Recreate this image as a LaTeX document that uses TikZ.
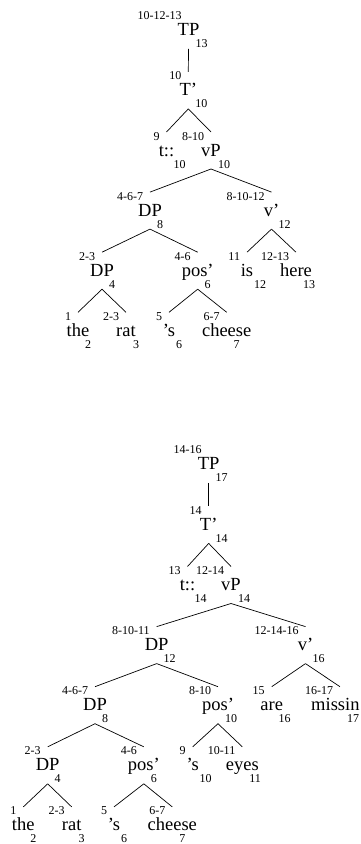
\documentclass[tikz,border=0pt]{standalone}
\usepackage{fontspec}
\setmainfont{Liberation Serif}
\usetikzlibrary{calc}
\tikzset{
  wordst/.style={inner sep=0pt, outer sep=0pt, anchor=base, font=\fontsize{18.5}{20}\selectfont},
  supst/.style={inner sep=0pt, outer sep=0pt, anchor=base east, font=\fontsize{12}{13}\selectfont},
  subst/.style={inner sep=0pt, outer sep=0pt, anchor=base west, font=\fontsize{12}{13}\selectfont},
  branch/.style={line width=0.7pt, black}
}
\newcommand{\lx}[6]{%
  \node[wordst] (#1) at (#2,#3) {#5};
  \node[supst] (#1-sup) at ($(#1.base)+(-7,-16)$) {#4};
  \node[subst] (#1-sub) at ($(#1.base)+(7,12)$) {#6};
}
\newcommand{\br}[2]{\draw[branch] ($(#1.base)+(0,13)$) -- ($(#2.base)+(0,-24)$);}
\begin{document}
\begin{tikzpicture}[x=1pt,y=-1pt]
\useasboundingbox (0,0) rectangle (360,844);
\clip (0,0) rectangle (360,844);
\fill[white] (0,0) rectangle (360,844);
% ---------- tree 1 ----------
\lx{aTP}{188.5}{35.8}{10-12-13}{TP}{13}
\lx{aT}{188.3}{95.9}{10}{T’}{10}
\lx{at}{166.5}{156}{9}{t::}{10}
\lx{avP}{211}{156}{8-10}{vP}{10}
\lx{aDP}{150}{216.1}{4-6-7}{DP}{8}
\lx{av}{271.5}{216.1}{8-10-12}{v’}{12}
\lx{aDPb}{102}{276.2}{2-3}{DP}{4}
\lx{apos}{197.7}{276.2}{4-6}{pos’}{6}
\lx{ais}{247}{276.2}{11}{is}{12}
\lx{ahere}{296}{276.2}{12-13}{here}{13}
\lx{athe}{78}{336.3}{1}{the}{2}
\lx{arat}{126}{336.3}{2-3}{rat}{3}
\lx{as}{169}{336.3}{5}{’s}{6}
\lx{acheese}{226.7}{336.3}{6-7}{cheese}{7}
\br{aTP}{aT}
\br{aT}{at}
\br{aT}{avP}
\br{avP}{aDP}
\br{avP}{av}
\br{aDP}{aDPb}
\br{aDP}{apos}
\br{av}{ais}
\br{av}{ahere}
\br{aDPb}{athe}
\br{aDPb}{arat}
\br{apos}{as}
\br{apos}{acheese}
% ---------- tree 2 ----------
\lx{bTP}{208.7}{469.8}{14-16}{TP}{17}
\lx{bT}{208.7}{530.4}{14}{T’}{14}
\lx{bt}{187.5}{590.5}{13}{t::}{14}
\lx{bvP}{231}{590.5}{12-14}{vP}{14}
\lx{bDP}{156.7}{650.6}{8-10-11}{DP}{12}
\lx{bv}{305.5}{650.6}{12-14-16}{v’}{16}
\lx{bDPb}{95}{710.7}{4-6-7}{DP}{8}
\lx{bpos}{218}{710.7}{8-10}{pos’}{10}
\lx{bare}{271.7}{710.7}{15}{are}{16}
\lx{bmiss}{340}{710.7}{16-17}{\rlap{missin}\phantom{missing}}{17}
\lx{bDPc}{47.7}{770.8}{2-3}{DP}{4}
\lx{bposb}{143.8}{770.8}{4-6}{pos’}{6}
\lx{bs}{192.7}{770.8}{9}{’s}{10}
\lx{beyes}{242.3}{770.8}{10-11}{eyes}{11}
\lx{bthe}{23.3}{830.9}{1}{the}{2}
\lx{brat}{71.7}{830.9}{2-3}{rat}{3}
\lx{bstwo}{114}{830.9}{5}{’s}{6}
\lx{bcheese}{172.3}{830.9}{6-7}{cheese}{7}
\br{bTP}{bT}
\br{bT}{bt}
\br{bT}{bvP}
\br{bvP}{bDP}
\br{bvP}{bv}
\br{bDP}{bDPb}
\br{bDP}{bpos}
\br{bv}{bare}
\br{bv}{bmiss}
\br{bDPb}{bDPc}
\br{bDPb}{bposb}
\br{bpos}{bs}
\br{bpos}{beyes}
\br{bDPc}{bthe}
\br{bDPc}{brat}
\br{bposb}{bstwo}
\br{bposb}{bcheese}
\end{tikzpicture}
\end{document}
